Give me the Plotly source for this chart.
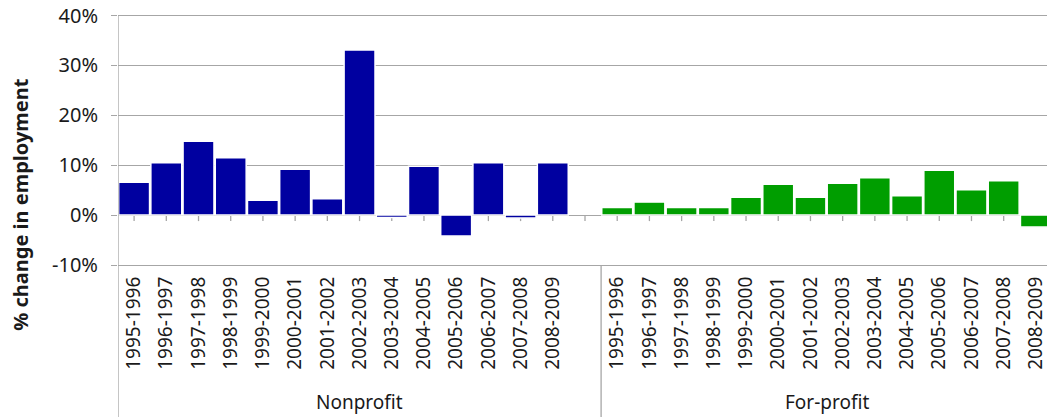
import plotly.graph_objects as go

periods = ["1995-1996", "1996-1997", "1997-1998", "1998-1999", "1999-2000",
           "2000-2001", "2001-2002", "2002-2003", "2003-2004", "2004-2005",
           "2005-2006", "2006-2007", "2007-2008", "2008-2009"]
groups = ["Nonprofit", "For-profit"]
nonprofit = [6.6, 10.5, 14.8, 11.5, 3.0, 9.2, 3.3, 33.1, -0.5, 9.8, -4.2, 10.5, -0.6, 10.5]
forprofit = [1.5, 2.6, 1.5, 1.5, 3.6, 6.2, 3.6, 6.4, 7.5, 3.9, 9.0, 5.1, 6.9, -2.4]
y_ticks = [-10, 0, 10, 20, 30, 40]

n = len(periods)
x_np = list(range(n))
x_fp = [n + 1 + i for i in range(n)]
x_all = x_np + [n] + x_fp
labels_all = periods + [""] + periods
x_min, x_max = -0.5, 2 * n + 0.5

BLUE = "#0000A0"
GREEN = "#009E00"
GRID = "#A6A6A6"
TXT = "#1a1a1a"
FONT = "Noto Sans"

fig = go.Figure()
fig.add_bar(x=x_np, y=nonprofit, marker=dict(color=BLUE, line=dict(color="white", width=1.5)),
            name=groups[0], hoverinfo="y")
fig.add_bar(x=x_fp, y=forprofit, marker=dict(color=GREEN, line=dict(color="white", width=1.5)),
            name=groups[1], hoverinfo="y")

shapes = []
# small ticks along the zero line at category centres
for xv in x_all:
    shapes.append(dict(type="line", xref="x", yref="y", x0=xv, x1=xv,
                       ysizemode="pixel", yanchor=0, y0=0, y1=-6,
                       line=dict(color=GRID, width=1.3), layer="below"))
# boundary ticks under the bottom axis
for k in range(1, 2 * n + 1):
    xb = x_min + k
    if xb == n + 0.5:
        continue
    shapes.append(dict(type="line", xref="x", yref="y", x0=xb, x1=xb,
                       ysizemode="pixel", yanchor=y_ticks[0], y0=0, y1=-6,
                       line=dict(color=GRID, width=1.3)))
# long group separators and frame lines below the plot
for xb in [x_min, n + 0.5, x_max]:
    shapes.append(dict(type="line", xref="x", yref="paper", x0=xb, x1=xb,
                       y0=0, y1=-0.62, line=dict(color=GRID, width=1.3)))

annotations = [
    dict(text=groups[0], x=(x_min + n + 0.5) / 2, y=-0.543, xref="x", yref="paper",
         showarrow=False, font=dict(family=FONT, size=19, color=TXT), yanchor="middle"),
    dict(text=groups[1], x=(n + 0.5 + x_max) / 2, y=-0.543, xref="x", yref="paper",
         showarrow=False, font=dict(family=FONT, size=19, color=TXT), yanchor="middle"),
    dict(text="<b>% change in employment</b>", x=-0.1039, y=0.243, xref="paper", yref="paper",
         textangle=-90, showarrow=False, xanchor="center", yanchor="middle",
         font=dict(family=FONT, size=20, color=TXT)),
]

# page body has an 8px default margin; figure sized to fill the rest of the window
fig.update_layout(
    width=1047, height=409,
    margin=dict(l=110, r=3, t=4.5, b=152, autoexpand=False),
    paper_bgcolor="white", plot_bgcolor="white",
    showlegend=False, bargap=0.04,
    shapes=shapes, annotations=annotations,
    font=dict(family=FONT, color=TXT),
)
fig.update_xaxes(
    range=[x_min, x_max], tickmode="array", tickvals=x_all, ticktext=labels_all,
    tickangle=-90, tickfont=dict(family=FONT, size=19, color=TXT),
    ticks="", showgrid=False, zeroline=False, automargin=False,
    showline=True, linecolor=GRID, linewidth=1.3,
    ticklabelstandoff=3,
)
fig.update_yaxes(
    range=[y_ticks[0], y_ticks[-1] + 0.5], tickmode="array", tickvals=y_ticks,
    ticktext=[f"{v}%" for v in y_ticks],
    tickfont=dict(family=FONT, size=20, color=TXT), automargin=False,
    ticklabeloverflow="allow",
    ticks="outside", ticklen=6, tickcolor=GRID, tickwidth=1.3,
    showgrid=True, gridcolor=GRID, gridwidth=1.3,
    zeroline=True, zerolinecolor=GRID, zerolinewidth=1.3,
    showline=False,
    ticklabelstandoff=9,
)
# left axis line drawn as a shape covering the plot and the label area below it
shapes_axis = [dict(type="line", xref="x", yref="y", x0=x_min, x1=x_min,
                    y0=y_ticks[0], y1=y_ticks[-1], line=dict(color=GRID, width=1.3))]
fig.update_layout(shapes=list(fig.layout.shapes) + shapes_axis)

fig.write_html("out.html")
